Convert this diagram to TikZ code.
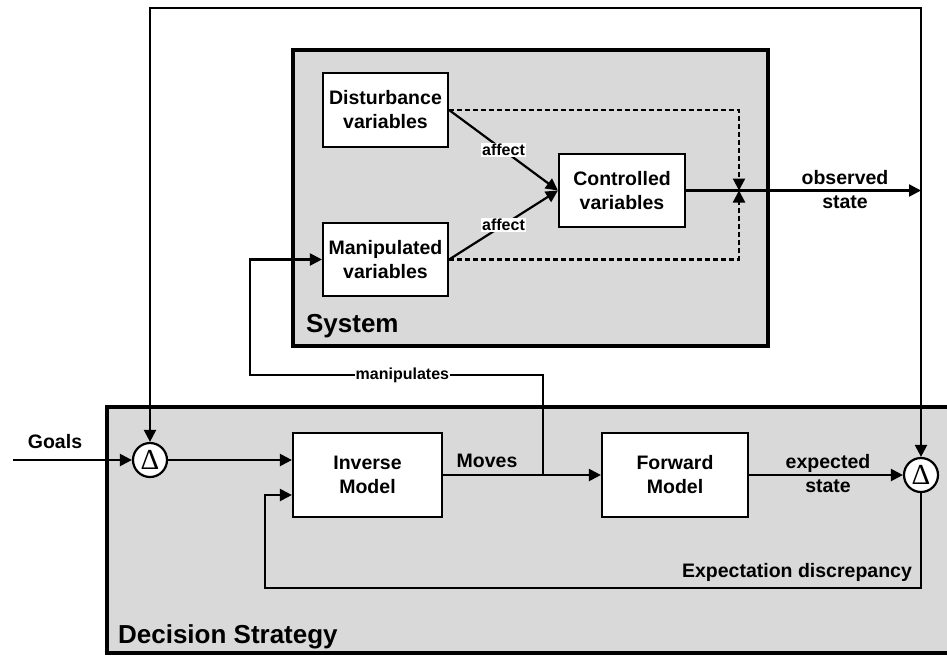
\documentclass[tikz,border=0pt]{standalone}
\usepackage{fontspec}
\setmainfont{Liberation Sans}
\newfontfamily\deltafont{Liberation Serif}
\usetikzlibrary{arrows.meta,calc}
\definecolor{panel}{RGB}{217,217,217}
\begin{document}
\begin{tikzpicture}[x=1pt,y=-1pt,
  font=\bfseries\fontsize{19.5}{24}\selectfont,
  line width=2.2pt,
  arr/.style={-{Triangle[length=12pt,width=12pt]}},
  box/.style={draw,fill=white,align=center,inner sep=0pt,line width=2.2pt},
  delta/.style={draw,circle,fill=white,minimum size=34pt,inner sep=0pt,line width=2.2pt,
    font=\deltafont\mdseries\fontsize{29}{29}\selectfont},
  lbl/.style={align=center,inner sep=1pt},
  small/.style={font=\bfseries\fontsize{16}{18}\selectfont},
  big/.style={font=\bfseries\fontsize{26}{28}\selectfont,anchor=west,inner sep=0pt},
  panelbox/.style={fill=panel,line width=4.5pt},
  dashedline/.style={dash pattern=on 5pt off 3pt}]

\useasboundingbox (0,0) rectangle (947,656);
\clip (0,0) rectangle (947,656);

% panels
\draw[panelbox] (107,407) rectangle (965,653);
\draw[panelbox] (293,50) rectangle (768,346);

% blocks
\node[box,minimum width=125pt,minimum height=74pt] (dist) at (385.5,110) {Disturbance\\variables};
\node[box,minimum width=125pt,minimum height=73pt] (manip) at (385.5,259.5) {Manipulated\\variables};
\node[box,minimum width=126pt,minimum height=73pt] (ctrl) at (622,190.5) {Controlled\\variables};
\node[box,minimum width=149pt,minimum height=84pt] (inv) at (367.5,475) {Inverse\\Model};
\node[box,minimum width=146pt,minimum height=84pt] (fwd) at (675,475) {Forward\\Model};
\node[delta] (ld) at (150,460) {\raisebox{1pt}{Δ}};
\node[delta] (rd) at (921,475) {\raisebox{1pt}{Δ}};

% labels
\node[big] (syslbl) at (305,326) {System};
\node[big] (declbl) at (117,637) {Decision Strategy};
\node[lbl] (goals) at (55,442) {Goals};
\node[lbl] (moves) at (487,461) {Moves};
\node[lbl] (exps) at (828,474) {expected\\state};
\node[lbl] (obss) at (845,190) {observed\\state};
\node[lbl] (disc) at (797,572) {Expectation discrepancy};

% coordinates
\coordinate (goalin) at (13,460);
\coordinate (obs) at (921,190.5);
\coordinate (tr) at (921,8);
\coordinate (tl) at (150,8);
\coordinate (dx) at (739,0);
\coordinate (mj) at (543,475);
\coordinate (m1) at (543,375);
\coordinate (m2) at (250,375);
\coordinate (f1) at (921,588);
\coordinate (f2) at (265,588);

% system connectors
\draw[arr] (dist.east) -- node[lbl,small,fill=white]{affect} (ctrl.west);
\draw[arr] (manip.east) -- node[lbl,small,fill=white]{affect} (ctrl.west);
\draw[arr,dashedline] (dist.east) -- (dist.east -| dx) -- (ctrl.east -| dx);
\draw[arr,dashedline] (manip.east) -- (manip.east -| dx) -- (ctrl.east -| dx);
\draw[arr] (ctrl.east) -- (obs);

% outer loop
\draw[arr] (obs) -- (rd.north);
\draw[arr] (obs) -- (tr) -- (tl) -- (ld.north);

% decision strategy connectors
\draw[arr] (goalin) -- (ld.west);
\draw[arr] (ld.east) -- (ld.east -| inv.west);
\draw[arr] (inv.east) -- (fwd.west);
\draw[arr] (mj) -- (m1) -- node[pos=0.48,lbl,small,fill=white]{manipulates} (m2) |- (manip.west);
\draw[arr] (fwd.east) -- (rd.west);
\draw[arr] (rd.south) -- (f1) -- (f2) |- ($(inv.west)+(0,20)$);
\end{tikzpicture}
\end{document}
